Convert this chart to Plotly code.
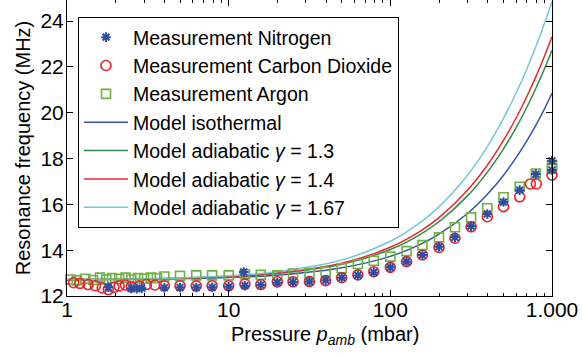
import plotly.graph_objects as go

# ---------------- data ----------------
n2_p = [1.8, 2.5, 2.7, 2.9, 4.0, 5.0, 6.3, 7.9, 10, 12.4, 12.6, 15.8, 20, 25, 31.6, 39.8, 50, 63, 79,
        100, 126, 158, 200, 251, 316, 398, 501, 631, 794, 1000, 1000]
n2_f = [12.38, 12.33, 12.32, 12.34, 12.36, 12.37, 12.37, 12.38, 12.40, 13.05, 12.45, 12.48, 12.58, 12.60,
        12.63, 12.69, 12.80, 12.90, 13.03, 13.25, 13.50, 13.79, 14.15, 14.56, 15.05, 15.58, 16.10,
        16.62, 17.32, 17.50, 17.90]

co2_p = [1.1, 1.2, 1.35, 1.5, 1.65, 1.8, 1.95, 2.1, 2.3, 2.5, 2.8, 3.1, 3.5, 4.0, 5.0, 6.3, 7.9, 10,
         12.6, 15.8, 20, 25, 31.6, 39.8, 50, 63, 79, 100, 126, 158, 200, 251, 316, 398, 501, 631,
         735, 800, 1000]
co2_f = [12.58, 12.55, 12.50, 12.45, 12.35, 12.28, 12.38, 12.44, 12.48, 12.40, 12.44, 12.50, 12.48,
         12.45, 12.45, 12.44, 12.45, 12.45, 12.52, 12.50, 12.62, 12.62, 12.63, 12.67, 12.80, 12.92,
         13.06, 13.25, 13.50, 13.79, 14.12, 14.52, 15.02, 15.46, 15.90, 16.33, 16.89, 16.89, 17.28]

ar_p = [1.05, 1.15, 1.3, 1.45, 1.6, 1.75, 1.9, 2.1, 2.3, 2.5, 2.75, 3.0, 3.3, 3.6, 4.0, 5.0, 6.3,
        7.9, 10, 12.6, 15.8, 20, 25, 31.6, 39.8, 50, 63, 79, 100, 126, 158, 200, 251, 316, 398,
        501, 631, 794, 1000, 1000]
ar_f = [12.72, 12.68, 12.75, 12.70, 12.80, 12.72, 12.78, 12.75, 12.80, 12.72, 12.78, 12.75, 12.80,
        12.78, 12.85, 12.88, 12.90, 12.90, 12.90, 12.95, 12.92, 12.90, 12.98, 13.00, 13.06, 13.21,
        13.40, 13.54, 13.72, 13.96, 14.22, 14.56, 15.00, 15.43, 15.83, 16.31, 16.77, 17.35, 17.55,
        17.70]

model_p = [1, 2, 5, 10, 20, 50, 100, 150, 200, 300, 400, 500, 600, 700, 800, 900, 1000]
model_iso = [12.71, 12.72, 12.75, 12.81, 12.91, 13.23, 13.73, 14.22, 14.70, 15.60, 16.45, 17.26,
             18.04, 18.78, 19.49, 20.18, 20.85]
model_13 = [12.71, 12.73, 12.77, 12.84, 12.98, 13.38, 14.03, 14.65, 15.24, 16.37, 17.42, 18.41,
            19.35, 20.25, 21.11, 21.93, 22.73]
model_14 = [12.72, 12.73, 12.78, 12.85, 13.00, 13.43, 14.13, 14.79, 15.42, 16.62, 17.73, 18.78,
            19.77, 20.72, 21.62, 22.49, 23.32]
model_167 = [12.72, 12.74, 12.79, 12.88, 13.06, 13.57, 14.39, 15.16, 15.89, 17.27, 18.54, 19.74,
             20.86, 21.93, 22.94, 23.92, 24.85]

x_tickvals = [1, 10, 100, 1000]
x_ticktext = ["1", "10", "100", "1.000"]
y_tickvals = [12, 14, 16, 18, 20, 22, 24]

FONT = "Liberation Sans, Arial, sans-serif"

fig = go.Figure()

models = [
    (model_iso, "Model isothermal", "#3556a8", 4),
    (model_13, "Model adiabatic <i>γ</i> = 1.3", "#2b8c45", 5),
    (model_14, "Model adiabatic <i>γ</i> = 1.4", "#e8282c", 6),
    (model_167, "Model adiabatic <i>γ</i> = 1.67", "#74c8db", 7),
]
for vals, name, col, rank in models:
    fig.add_trace(go.Scatter(x=model_p, y=vals, mode="lines", name=name,
                             line=dict(color=col, width=1.5, shape="spline"),
                             legendrank=rank))

fig.add_trace(go.Scatter(x=ar_p, y=ar_f, mode="markers", name="Measurement Argon",
                         marker=dict(symbol="square-open", size=9, color="#6cb33f",
                                     line=dict(width=1.6, color="#6cb33f")),
                         cliponaxis=False, legendrank=3))
fig.add_trace(go.Scatter(x=co2_p, y=co2_f, mode="markers", name="Measurement Carbon Dioxide",
                         marker=dict(symbol="circle-open", size=10, color="#e8232a",
                                     line=dict(width=1.6, color="#e8232a")),
                         cliponaxis=False, legendrank=2))
fig.add_trace(go.Scatter(x=n2_p, y=n2_f, mode="markers", name="Measurement Nitrogen",
                         marker=dict(symbol="asterisk-open", size=8, color="#2a4ea2",
                                     line=dict(width=2, color="#2a4ea2")),
                         cliponaxis=False, legendrank=1))

fig.update_layout(
    width=582, height=358,
    margin=dict(l=67, r=30, t=0, b=62),
    paper_bgcolor="white", plot_bgcolor="white",
    font=dict(family=FONT, size=19, color="black"),
    showlegend=True,
    legend=dict(x=0.0227, y=0.9426, xanchor="left", yanchor="top",
                bgcolor="white", bordercolor="black", borderwidth=1,
                font=dict(family=FONT, size=19.5, color="black"),
                tracegroupgap=0, itemwidth=44),
    annotations=[dict(text="Pressure <i>p</i><sub><i>amb</i></sub> (mbar)",
                      xref="paper", yref="paper", x=0.532, y=-0.132,
                      xanchor="center", yanchor="middle", showarrow=False,
                      font=dict(family=FONT, size=20, color="black"))],
)

fig.update_xaxes(
    type="log", range=[0, 3],
    tickmode="array", tickvals=x_tickvals, ticktext=x_ticktext,
    ticks="inside", ticklen=6, tickwidth=1, tickcolor="black",
    minor=dict(ticks="inside", ticklen=3, tickcolor="black", dtick="D1", showgrid=False),
    showline=True, linecolor="black", linewidth=1, mirror="ticks",
    showgrid=False, zeroline=False,
    tickfont=dict(family=FONT, size=21), ticklabelstandoff=-5,
)
fig.update_yaxes(
    range=[12, 24.92],
    tickmode="array", tickvals=y_tickvals,
    ticks="inside", ticklen=6, tickwidth=1, tickcolor="black",
    showline=True, linecolor="black", linewidth=1, mirror="ticks",
    showgrid=False, zeroline=False,
    tickfont=dict(family=FONT, size=21), ticklabelstandoff=-2,
    title=dict(text="Resonance frequency (MHz)", font=dict(family=FONT, size=20), standoff=4),
)

fig.write_html("out.html")
